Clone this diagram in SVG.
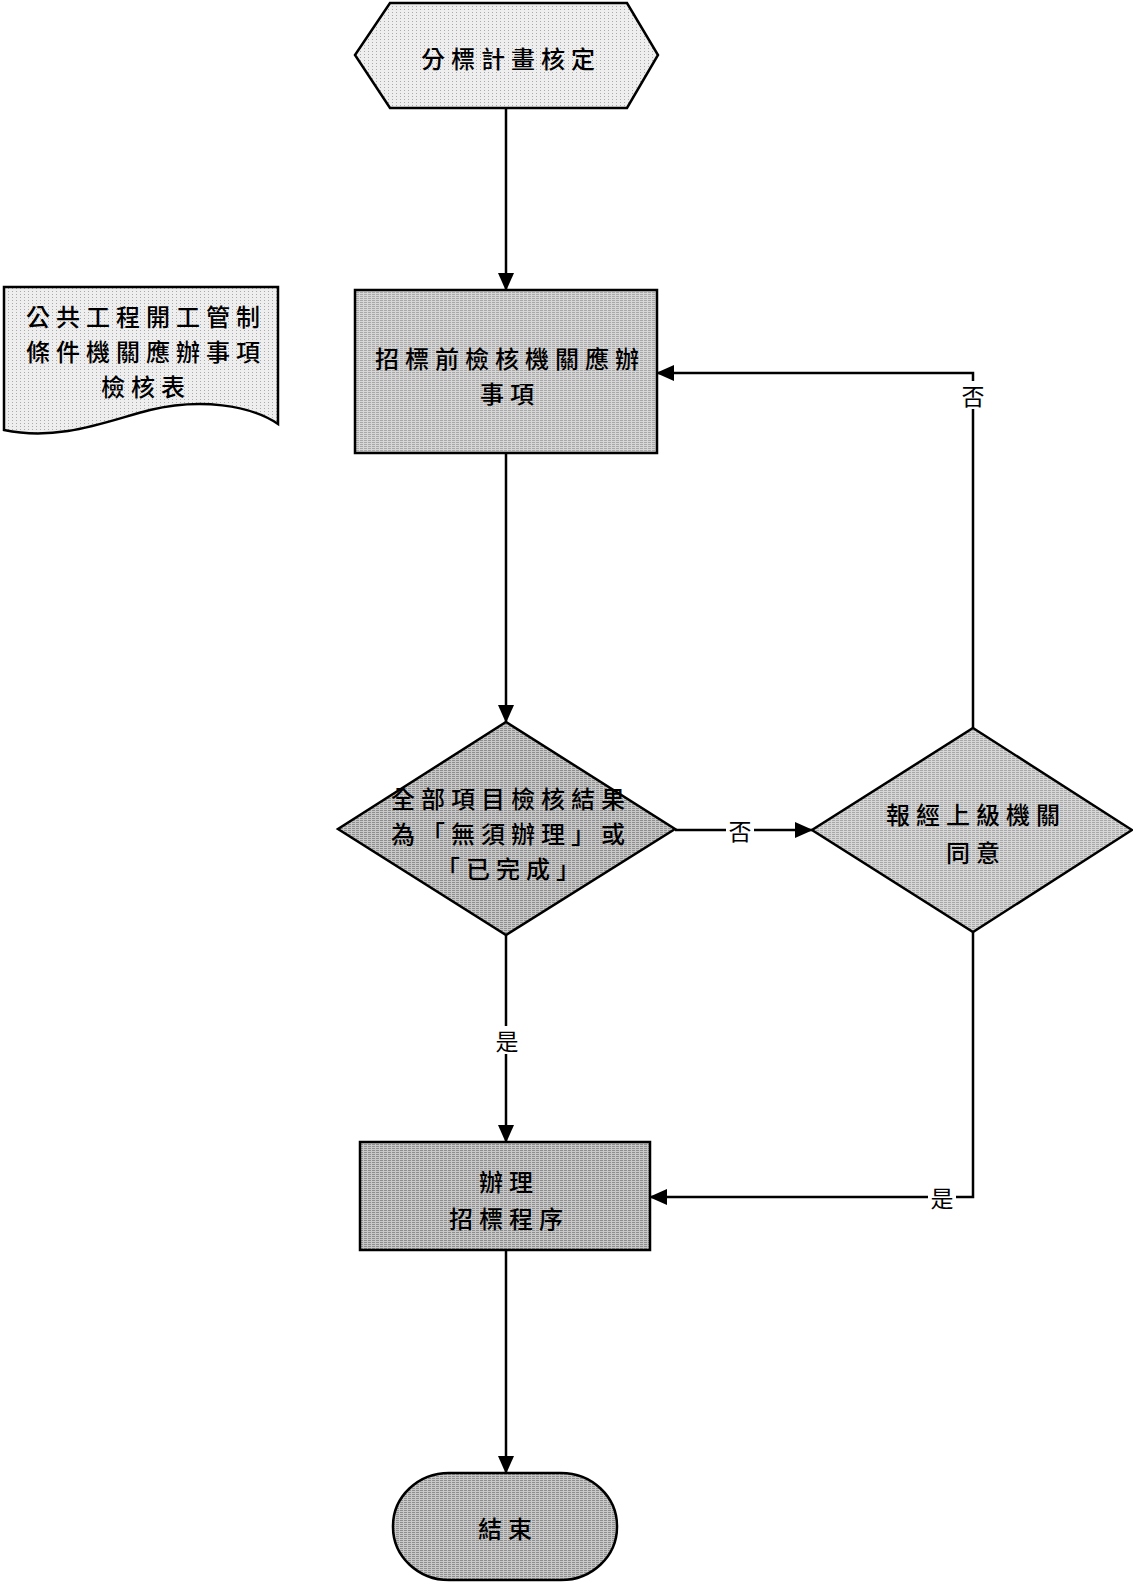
<svg xmlns="http://www.w3.org/2000/svg" width="1133" height="1588" viewBox="0 0 1133 1588">
<style>
.s{stroke:#000;stroke-width:2.5;stroke-linejoin:miter}
.t{font-family:"Noto Sans CJK TC","Noto Sans CJK SC",sans-serif;font-size:24px;font-weight:500;letter-spacing:6px;text-anchor:middle;dominant-baseline:central;fill:#000}
.l{font-family:"Noto Sans CJK TC","Noto Sans CJK SC",sans-serif;font-size:23px;text-anchor:middle;dominant-baseline:central;fill:#000}
.c{fill:none;stroke:#000;stroke-width:2.5}
.bg{fill:#fff}
</style>
<defs>
<marker id="ah" markerUnits="userSpaceOnUse" markerWidth="18" markerHeight="16" refX="17" refY="8" orient="auto">
<path d="M0,0 L18,8 L0,16 Z" fill="#000"/>
</marker>
<pattern id="p1" width="4" height="3" patternUnits="userSpaceOnUse"><rect width="4" height="3" fill="#eeeeee"/><rect x="0" y="0" width="1" height="1" fill="#aaa"/></pattern>
<pattern id="p2" width="4" height="2" patternUnits="userSpaceOnUse"><rect width="4" height="2" fill="#d6d6d6"/><rect x="0" y="0" width="3" height="1" fill="#a8a8a8"/></pattern>
<pattern id="p3" width="4" height="2" patternUnits="userSpaceOnUse"><rect width="4" height="2" fill="#c8c8c8"/><rect x="0" y="0" width="3" height="1" fill="#8e8e8e"/></pattern>
</defs>

<g id="connectors">
<line class="c" x1="506" y1="108" x2="506" y2="290" marker-end="url(#ah)"/>
<line class="c" x1="506" y1="453" x2="506" y2="722" marker-end="url(#ah)"/>
<line class="c" x1="675" y1="830" x2="812" y2="830" marker-end="url(#ah)"/>
<rect class="bg" x="726" y="816" width="28" height="28"/>
<text class="l" x="740" y="830">否</text>
<line class="c" x1="506" y1="935" x2="506" y2="1142" marker-end="url(#ah)"/>
<rect class="bg" x="493" y="1026" width="28" height="28"/>
<text class="l" x="507" y="1040">是</text>
<polyline class="c" points="973,932 973,1197 650,1197" marker-end="url(#ah)"/>
<rect class="bg" x="928" y="1183" width="28" height="28"/>
<text class="l" x="942" y="1197">是</text>
<polyline class="c" points="973,728 973,373 657,373" marker-end="url(#ah)"/>
<rect class="bg" x="959" y="381" width="28" height="28"/>
<text class="l" x="973" y="395">否</text>
<line class="c" x1="506" y1="1250" x2="506" y2="1473" marker-end="url(#ah)"/>
</g>

<g id="start">
<polygon class="s" points="390,3 627,3 658,55 627,108 390,108 355,55" fill="url(#p1)"/>
<text class="t" x="511" y="57">分標計畫核定</text>
</g>

<g id="doc">
<path class="s" d="M4,287 H278 V424 C250,405 200,398 150,410 C110,420 60,442 4,430 Z" fill="url(#p1)"/>
<text class="t" x="146" y="315">公共工程開工管制</text>
<text class="t" x="146" y="350">條件機關應辦事項</text>
<text class="t" x="146" y="385">檢核表</text>
</g>

<g id="check">
<rect class="s" x="355" y="290" width="302" height="163" fill="url(#p2)"/>
<text class="t" x="510" y="357">招標前檢核機關應辦</text>
<text class="t" x="510" y="392">事項</text>
</g>

<g id="decision1">
<polygon class="s" points="506,722 675,829 506,935 338,829" fill="url(#p3)"/>
<text class="t" x="511" y="797">全部項目檢核結果</text>
<text class="t" x="511" y="832">為「無須辦理」或</text>
<text class="t" x="511" y="867">「已完成」</text>
</g>

<g id="decision2">
<polygon class="s" points="973,728 1132,830 973,932 812,830" fill="url(#p2)"/>
<text class="t" x="976" y="813">報經上級機關</text>
<text class="t" x="976" y="851">同意</text>
</g>

<g id="tender">
<rect class="s" x="360" y="1142" width="290" height="108" fill="url(#p3)"/>
<text class="t" x="509" y="1180">辦理</text>
<text class="t" x="509" y="1217">招標程序</text>
</g>

<g id="end">
<rect class="s" x="393" y="1473" width="224" height="107" rx="56" ry="53" fill="url(#p3)"/>
<text class="t" x="508" y="1527">結束</text>
</g>
</svg>
